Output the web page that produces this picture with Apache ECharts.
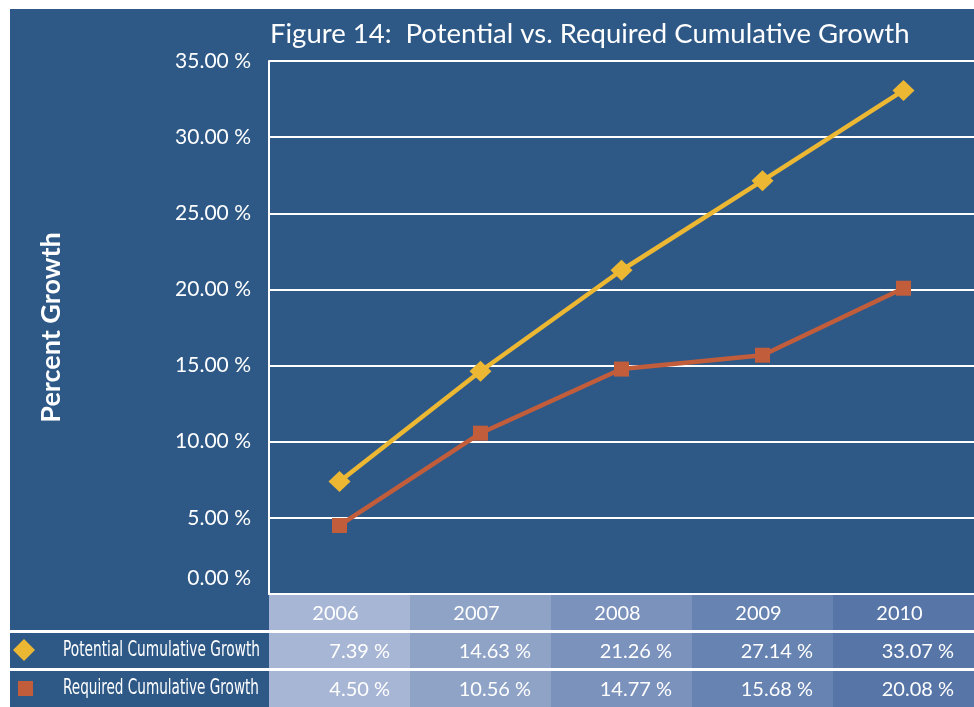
<!DOCTYPE html>
<html>
<head>
<meta charset="utf-8">
<script src="https://cdn.jsdelivr.net/npm/echarts@6/dist/echarts.min.js"></script>
<style>
  html, body { margin: 0; padding: 0; background: #ffffff; }
  #chart { width: 974px; height: 707px; }
</style>
</head>
<body>
<div id="chart"></div>
<script>
const years = ['2006', '2007', '2008', '2009', '2010']
const potential = [7.39, 14.63, 21.26, 27.14, 33.07]
const required = [4.50, 10.56, 14.77, 15.68, 20.08]
const seriesNames = ['Potential Cumulative Growth', 'Required Cumulative Growth']
const yMin = 0
const yMax = 35
const yStep = 5

const PANEL = '#2e5987'
const GOLD = '#ecb732'
const RUST = '#c25d3b'
const cellColors = ['#a8b6d5', '#8fa3c7', '#7b92bc', '#6783b2', '#5775a7']
const FONT = 'Lato, "Open Sans", sans-serif'
const NARROW = '"Liberation Sans Narrow", "DejaVu Sans Condensed", "Liberation Sans", sans-serif'

const pct = (v) => v.toFixed(2) + ' %'

const chart = echarts.init(document.getElementById('chart'))

chart.setOption({
  backgroundColor: '#ffffff',
  animation: false,
  title: {
    text: 'Figure 14:  Potential vs. Required Cumulative Growth',
    left: 265,
    top: 15,
    textStyle: { color: '#ffffff', fontSize: 27.5, fontWeight: 'normal', fontFamily: FONT }
  },
  grid: { left: 269, top: 61, width: 714, height: 533 },
  xAxis: {
    type: 'category',
    data: years,
    boundaryGap: true,
    axisLine: { lineStyle: { color: '#ffffff', width: 2 } },
    axisTick: { show: false },
    axisLabel: { show: false }
  },
  yAxis: {
    type: 'value',
    min: yMin,
    max: yMax,
    interval: yStep,
    name: 'Percent Growth',
    nameLocation: 'middle',
    nameRotate: 90,
    nameGap: 204,
    nameTextStyle: { color: '#ffffff', fontSize: 27, fontWeight: 'bold', fontFamily: FONT },
    axisLine: { show: true, lineStyle: { color: '#ffffff', width: 2 } },
    axisTick: { show: false },
    axisLabel: {
      color: '#ffffff', fontSize: 21, fontFamily: FONT, margin: 18,
      // the zero label sits a little above the table header
      formatter: (v) => (v === yMin ? '{low|' + pct(v) + '}' : pct(v)),
      rich: { low: { color: '#ffffff', fontSize: 21, fontFamily: FONT, padding: [0, 0, 32, 0] } }
    },
    splitLine: { lineStyle: { color: '#ffffff', width: 2 } }
  },
  series: [
    {
      name: seriesNames[0],
      type: 'line',
      data: potential,
      symbol: 'diamond',
      symbolSize: [22, 21],
      lineStyle: { color: GOLD, width: 4.5 },
      itemStyle: { color: GOLD }
    },
    {
      name: seriesNames[1],
      type: 'line',
      data: required,
      symbol: 'rect',
      symbolSize: 15,
      lineStyle: { color: RUST, width: 4.5 },
      itemStyle: { color: RUST }
    }
  ]
})

// data table under the plot, aligned with the category bands
const centers = years.map((y) => chart.convertToPixel({ xAxisIndex: 0 }, y))
const band = centers[1] - centers[0]
const rows = [
  { top: 595, h: 35 },
  { top: 633, h: 35 },
  { top: 671, h: 36 }
]
const elements = [
  { type: 'rect', z: -100, shape: { x: 10, y: 9, width: 964, height: 698 }, style: { fill: PANEL } }
]
years.forEach((y, i) => {
  const left = centers[i] - band / 2
  rows.forEach((r) => {
    elements.push({
      type: 'rect',
      shape: { x: left, y: r.top, width: band + 1, height: r.h },
      style: { fill: cellColors[i] }
    })
  })
  elements.push({
    type: 'text',
    style: {
      text: y, x: centers[i] - 4, y: rows[0].top + rows[0].h / 2 + 1,
      fill: '#ffffff', font: '20px ' + FONT,
      textAlign: 'center', textVerticalAlign: 'middle', align: 'center', verticalAlign: 'middle'
    }
  })
  ;[potential, required].forEach((arr, k) => {
    const r = rows[k + 1]
    elements.push({
      type: 'text',
      style: {
        text: pct(arr[i]), x: left + band - 20, y: r.top + r.h / 2 + 1,
        fill: '#ffffff', font: '20px ' + FONT,
        textAlign: 'right', textVerticalAlign: 'middle', align: 'right', verticalAlign: 'middle'
      }
    })
  })
})
// white separators between table rows
elements.push(
  { type: 'rect', shape: { x: 10, y: 630, width: 964, height: 3 }, style: { fill: '#ffffff' } },
  { type: 'rect', shape: { x: 10, y: 668, width: 964, height: 3 }, style: { fill: '#ffffff' } }
)
// legend cells
elements.push(
  { type: 'polygon', shape: { points: [[24, 639], [35, 650], [24, 661], [13, 650]] }, style: { fill: GOLD } },
  { type: 'rect', shape: { x: 18, y: 681, width: 15, height: 15 }, style: { fill: RUST } }
)
// the legend names are set in a condensed face; squeeze to the same width
const measure = document.createElement('canvas').getContext('2d')
const legendFont = '21px ' + NARROW
measure.font = legendFont
seriesNames.forEach((name, k) => {
  const r = rows[k + 1]
  const targetW = k === 0 ? 197 : 196
  const sx = Math.min(1, targetW / measure.measureText(name).width)
  elements.push({
    type: 'text',
    x: 63,
    y: r.top + r.h / 2,
    scaleX: sx,
    style: {
      text: name, x: 0, y: 0,
      fill: '#ffffff', font: legendFont,
      textAlign: 'left', textVerticalAlign: 'middle', align: 'left', verticalAlign: 'middle'
    }
  })
})

chart.setOption({ graphic: { elements } })
</script>
</body>
</html>
